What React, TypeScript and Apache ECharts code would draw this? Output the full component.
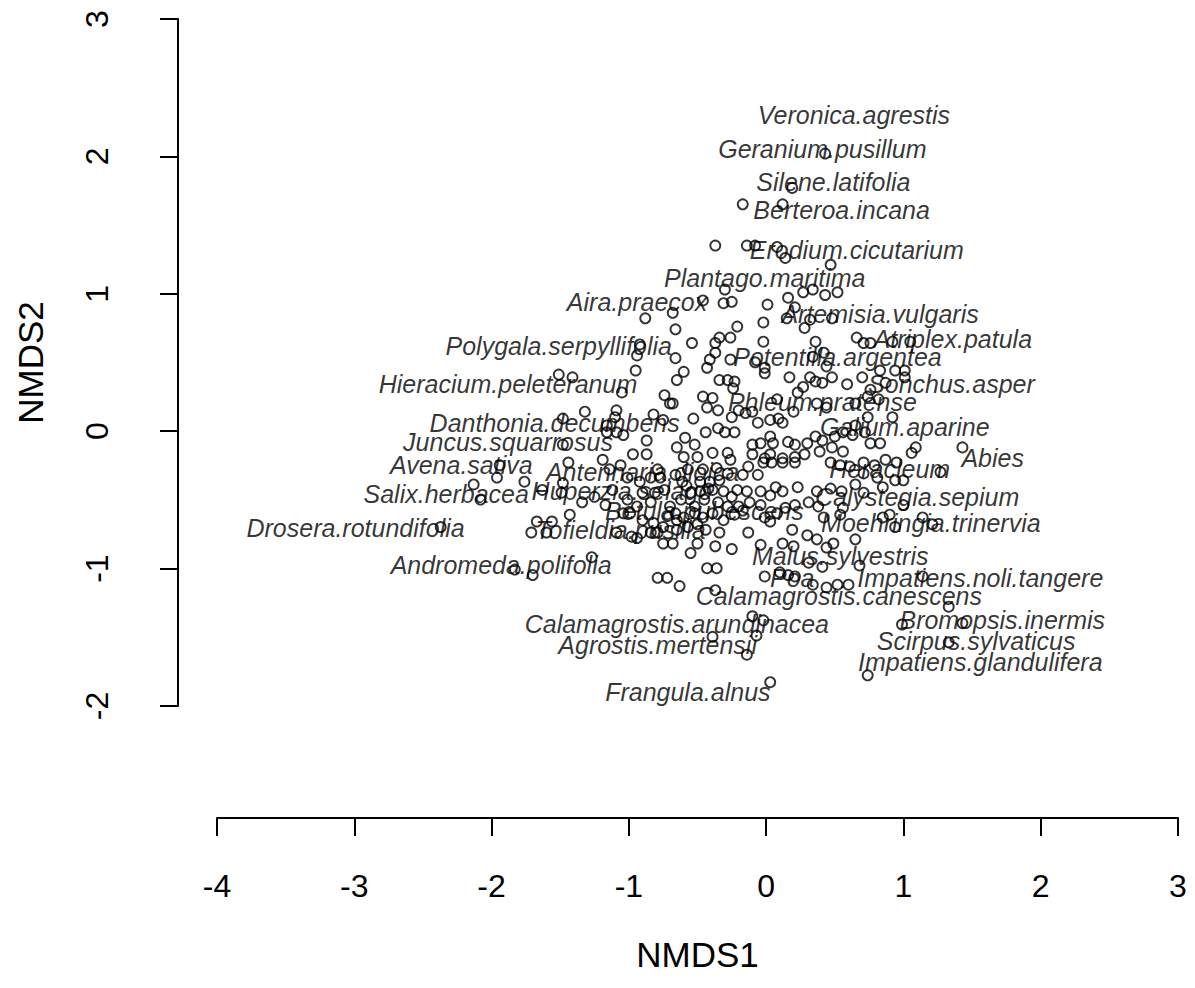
import React, { useEffect, useRef } from "react";
import * as echarts from "echarts";

// Species with text labels (NMDS1, NMDS2 at label centre)
const labelNames: string[] = [
  "Veronica.agrestis", "Geranium.pusillum", "Silene.latifolia", "Berteroa.incana",
  "Erodium.cicutarium", "Plantago.maritima", "Aira.praecox", "Artemisia.vulgaris",
  "Atriplex.patula", "Polygala.serpyllifolia", "Potentilla.argentea", "Hieracium.peleteranum",
  "Sonchus.asper", "Phleum.pratense", "Danthonia.decumbens", "Galium.aparine",
  "Juncus.squarrosus", "Abies", "Avena.sativa", "Antennaria.dioica", "Heracleum",
  "Salix.herbacea", "Huperzia.selago", "Calystegia.sepium", "Betula.pubescens",
  "Drosera.rotundifolia", "Moehringia.trinervia", "Tofieldia.pusilla", "Malus.sylvestris",
  "Andromeda.polifolia", "Impatiens.noli.tangere", "Poa", "Calamagrostis.canescens",
  "Bromopsis.inermis", "Calamagrostis.arundinacea", "Scirpus.sylvaticus",
  "Agrostis.mertensii", "Impatiens.glandulifera", "Frangula.alnus",
];
const labelX: number[] = [
  0.64, 0.41, 0.49, 0.55, 0.66, -0.01, -0.94, 0.83, 1.36, -1.51, 0.52, -1.88,
  1.35, 0.41, -1.54, 1.01, -1.88, 1.65, -2.22, -0.90, 0.90, -2.33, -1.05, 1.10,
  -0.45, -2.99, 1.20, -1.06, 0.54, -1.93, 1.56, 0.19, 0.53, 1.72, -0.65, 1.53,
  -0.79, 1.56, -0.57,
];
const labelY: number[] = [
  2.30, 2.05, 1.81, 1.61, 1.32, 1.11, 0.94, 0.85, 0.67, 0.62, 0.54, 0.34,
  0.34, 0.21, 0.06, 0.03, -0.08, -0.20, -0.25, -0.30, -0.28, -0.46, -0.44, -0.48,
  -0.58, -0.71, -0.67, -0.72, -0.91, -0.98, -1.07, -1.07, -1.20, -1.38, -1.41, -1.53,
  -1.56, -1.68, -1.90,
];

// Unlabelled species points [NMDS1, NMDS2]
const speciesPoints: [number, number][] = [
  [0.43, 2.02], [0.19, 1.77], [-0.17, 1.65], [0.12, 1.65], [-0.37, 1.35], [-0.14, 1.35],
  [-0.08, 1.35], [0.08, 1.34], [0.14, 1.26], [0.47, 1.21], [-0.30, 1.03], [0.27, 1.01],
  [0.34, 1.03], [0.43, 0.99], [0.52, 1.01], [0.16, 0.97], [-0.46, 0.95], [-0.25, 0.94],
  [-0.68, 0.86], [-0.88, 0.82], [0.01, 0.92], [0.32, 0.81], [0.48, 0.82], [0.15, 0.82],
  [0.21, 0.90], [0.28, 0.75], [-0.02, 0.79], [-0.21, 0.76], [-0.66, 0.74], [-0.31, 0.93],
  [-0.54, 0.64], [-0.34, 0.68], [-0.37, 0.64], [-0.26, 0.68], [-0.02, 0.65], [0.36, 0.65],
  [0.42, 0.57], [0.34, 0.54], [0.66, 0.68], [0.71, 0.64], [0.76, 0.64], [0.92, 0.65],
  [1.05, 0.65], [0.44, 0.47], [-0.92, 0.63], [-0.94, 0.55], [-0.95, 0.44], [-0.66, 0.53],
  [-0.37, 0.57], [-0.41, 0.52], [-0.26, 0.52], [-0.43, 0.46], [-0.60, 0.43], [-0.65, 0.37],
  [-0.01, 0.46], [-0.01, 0.42], [-0.08, 0.50], [0.17, 0.39], [0.32, 0.39], [0.36, 0.36],
  [0.41, 0.35], [0.48, 0.39], [0.59, 0.34], [0.70, 0.39], [0.83, 0.44], [0.76, 0.30],
  [0.87, 0.35], [0.94, 0.44], [1.01, 0.44], [1.01, 0.39], [-0.34, 0.37], [-0.28, 0.37],
  [-0.23, 0.36], [-0.24, 0.31], [0.27, 0.32], [0.23, 0.28], [0.08, 0.23], [0.37, 0.20],
  [0.44, 0.17], [0.65, 0.20], [0.74, 0.25], [0.74, 0.10], [0.82, 0.23], [0.92, 0.10],
  [-0.46, 0.25], [-0.39, 0.24], [-0.43, 0.17], [-0.35, 0.15], [-0.20, 0.15], [-0.15, 0.13],
  [-0.25, 0.10], [-0.10, 0.14], [-0.06, 0.06], [0.03, 0.08], [0.09, 0.09], [0.20, 0.14],
  [0.12, 0.06], [-0.68, 0.20], [-0.53, 0.09], [-0.44, -0.01], [-0.35, 0.02], [-0.30, -0.01],
  [-0.23, -0.01], [-0.59, -0.05], [-0.52, -0.10], [-0.65, -0.12], [-0.10, -0.10], [-0.04, -0.09],
  [0.03, -0.04], [0.05, -0.09], [0.16, -0.08], [0.21, -0.10], [0.30, -0.09], [0.41, -0.07],
  [0.36, -0.04], [0.50, -0.04], [0.56, -0.01], [0.63, -0.03], [0.65, 0.04], [0.72, -0.01],
  [0.76, -0.09], [0.83, -0.09], [0.48, -0.12], [0.56, -0.15], [0.39, -0.15], [0.28, -0.17],
  [0.21, -0.19], [0.12, -0.20], [0.03, -0.17], [-0.01, -0.20], [-0.10, -0.17], [-0.13, -0.26],
  [-0.02, -0.23], [0.04, -0.23], [0.12, -0.23], [0.21, -0.23], [0.47, -0.23], [0.54, -0.25],
  [0.61, -0.26], [0.71, -0.23], [0.79, -0.25], [0.87, -0.21], [1.09, -0.12], [1.06, -0.16],
  [1.43, -0.12], [0.95, -0.23], [1.27, -0.30], [0.94, -0.36], [1.00, -0.36], [-0.60, -0.19],
  [-0.50, -0.19], [-0.39, -0.16], [-0.28, -0.16], [-0.26, -0.21], [-0.57, -0.28], [-0.46, -0.28],
  [-0.36, -0.27], [-0.28, -0.31], [-0.17, -0.32], [-0.06, -0.32], [-0.66, -0.32], [-0.61, -0.37],
  [-0.48, -0.37], [-0.41, -0.37], [-0.34, -0.36], [-0.48, -0.44], [-0.39, -0.43], [-0.31, -0.44],
  [-0.21, -0.43], [-0.14, -0.44], [0.07, -0.41], [0.12, -0.44], [0.23, -0.41], [0.37, -0.44],
  [0.47, -0.42], [0.55, -0.44], [0.65, -0.39], [0.71, -0.31], [0.81, -0.34], [0.85, -0.41],
  [0.71, -0.45], [-0.04, -0.44], [0.03, -0.47],
  [-1.41, 0.39], [-1.51, 0.41], [-1.05, 0.28], [-0.74, 0.26], [-0.70, 0.20], [-1.32, 0.14],
  [-1.09, 0.15], [-1.10, 0.10], [-1.48, 0.09], [-1.16, 0.04], [-1.09, -0.01], [-1.16, -0.01],
  [-1.04, -0.03], [-0.82, 0.12], [-0.75, 0.08], [-0.87, -0.07], [-1.48, -0.10], [-0.97, -0.17],
  [-0.87, -0.17], [-1.19, -0.21], [-1.06, -0.25], [-1.44, -0.23], [-1.94, -0.25], [-1.96, -0.34],
  [-1.76, -0.37], [-2.13, -0.39], [-1.63, -0.43], [-1.48, -0.38], [-1.49, -0.45], [-0.92, -0.37],
  [-0.84, -0.34], [-0.77, -0.34], [-0.90, -0.45], [-0.81, -0.45], [-0.74, -0.43], [-0.79, -0.28],
  [-2.08, -0.50], [-2.37, -0.70], [-1.67, -0.66], [-1.56, -0.66], [-1.43, -0.61], [-1.71, -0.74],
  [-1.60, -0.74], [-1.83, -1.01], [-1.70, -1.05], [-1.27, -0.92], [-0.99, -0.60], [-1.09, -0.74],
  [-0.94, -0.78], [-0.75, -0.82], [-0.79, -1.07], [-0.72, -1.07], [-0.63, -1.13],
  [-1.14, -0.28], [-1.01, -0.34], [-1.12, -0.43], [-1.01, -0.50], [-1.17, -0.54], [-1.25, -0.48],
  [-1.34, -0.52], [-1.04, -0.60], [-0.94, -0.55], [-0.84, -0.52], [-0.90, -0.65], [-0.82, -0.67],
  [-0.75, -0.70], [-0.79, -0.74], [-0.84, -0.74], [-0.98, -0.77],
  [-0.55, -0.89], [-0.43, -1.00], [-0.36, -1.00], [-0.37, -1.16], [-0.25, -0.86], [-0.37, -0.84],
  [-0.50, -0.82], [-0.01, -1.06], [0.16, -1.05], [0.21, -1.06], [0.10, -1.03], [0.34, -1.12],
  [0.44, -1.14], [0.52, -1.12], [0.60, -1.12], [0.41, -0.99], [0.31, -0.96], [0.68, -0.98],
  [0.65, -0.79], [0.49, -0.82], [0.44, -0.85], [0.37, -0.79], [0.30, -0.76], [0.12, -0.82],
  [0.20, -0.84], [0.19, -0.72], [-0.04, -0.83], [-0.10, -1.35], [-0.02, -1.38], [-0.07, -1.49],
  [-0.39, -1.50], [-0.14, -1.63], [0.03, -1.83], [0.74, -1.78], [1.14, -1.06], [1.33, -1.28],
  [1.43, -1.40], [0.99, -1.41], [1.33, -1.54], [0.90, -0.61], [1.14, -0.63], [1.21, -0.68],
  [0.94, -0.70], [1.00, -0.54],
  [-0.66, -0.60], [-0.60, -0.63], [-0.52, -0.60], [-0.46, -0.63], [-0.39, -0.60], [-0.31, -0.65],
  [-0.23, -0.61], [-0.17, -0.58], [-0.12, -0.52], [-0.04, -0.54], [-0.01, -0.63], [0.03, -0.66],
  [0.08, -0.60], [0.14, -0.56], [0.21, -0.54], [0.31, -0.52], [0.38, -0.55], [0.42, -0.63],
  [0.54, -0.61], [0.56, -0.56], [0.85, -0.63], [-0.34, -0.74], [-0.44, -0.72], [-0.57, -0.70],
  [-0.65, -0.72], [-0.68, -0.82], [-0.13, -0.74],
  [-0.55, -0.45], [-0.45, -0.50], [-0.35, -0.52], [-0.28, -0.55], [-0.52, -0.55], [-0.62, -0.50],
  [-0.70, -0.55], [-0.58, -0.40], [-0.42, -0.42], [-0.25, -0.48], [-0.20, -0.55], [-0.65, -0.65],
  [-0.50, -0.68], [-0.72, -0.62],
];

const xTicks = { min: -4, max: 3, interval: 1 };
const yTicks = { min: -2, max: 3, interval: 1 };
const xTitle = "NMDS1";
const yTitle = "NMDS2";

const FONT = "'Liberation Sans', Arial, Helvetica, sans-serif";

export default function App() {
  const ref = useRef<HTMLDivElement>(null);
  useEffect(() => {
    document.body.style.margin = "0";
    if (!ref.current) return;
    const chart = echarts.init(ref.current, undefined, { renderer: "svg" });
    const pxPerUnit = 137.3;
    const plotLeft = 178, plotTop = 19, plotW = 1000, plotH = 799;
    const xMax = 3.0, yMax = 3.0;
    const xMin = xMax - plotW / pxPerUnit;
    const yMin = yMax - plotH / pxPerUnit;
    const labelData = labelNames.map((n, i) => ({ name: n, value: [labelX[i], labelY[i]] }));

    chart.setOption({
      animation: false,
      backgroundColor: "#ffffff",
      textStyle: { fontFamily: FONT },
      grid: [
        { left: plotLeft, top: plotTop, width: plotW, height: plotH },
        { left: 217, top: 817, width: 961, height: 1 },
        { left: plotLeft, top: 19, width: 1, height: 687 },
      ],
      xAxis: [
        { gridIndex: 0, type: "value", min: xMin, max: xMax, show: false },
        {
          gridIndex: 1, type: "value", position: "bottom",
          min: xTicks.min, max: xTicks.max, interval: xTicks.interval,
          axisLine: { show: true, lineStyle: { color: "#000", width: 2 } },
          axisTick: { show: true, length: 18, inside: false, lineStyle: { color: "#000", width: 2 } },
          axisLabel: { color: "#000", fontSize: 32, margin: 52, fontFamily: FONT },
          splitLine: { show: false },
          name: xTitle, nameLocation: "middle", nameGap: 119,
          nameTextStyle: { color: "#000", fontSize: 35, fontFamily: FONT },
        },
        { gridIndex: 2, type: "value", show: false, min: 0, max: 1 },
      ],
      yAxis: [
        { gridIndex: 0, type: "value", min: yMin, max: yMax, show: false },
        { gridIndex: 1, type: "value", show: false, min: 0, max: 1 },
        {
          gridIndex: 2, type: "value", position: "left",
          min: yTicks.min, max: yTicks.max, interval: yTicks.interval,
          axisLine: { show: true, lineStyle: { color: "#000", width: 2 } },
          axisTick: { show: true, length: 18, inside: false, lineStyle: { color: "#000", width: 2 } },
          axisLabel: { color: "#000", fontSize: 32, margin: 65, rotate: 90, fontFamily: FONT },
          splitLine: { show: false },
          name: yTitle, nameLocation: "middle", nameGap: 130,
          nameTextStyle: { color: "#000", fontSize: 35, fontFamily: FONT },
        },
      ],
      series: [
        {
          type: "scatter", xAxisIndex: 0, yAxisIndex: 0,
          data: speciesPoints,
          symbol: "circle", symbolSize: 10,
          itemStyle: { color: "rgba(0,0,0,0)", borderColor: "#000", borderWidth: 1.9 },
          z: 2, silent: true,
        },
        {
          type: "scatter", xAxisIndex: 0, yAxisIndex: 0,
          data: labelData,
          symbolSize: 1,
          itemStyle: { color: "rgba(0,0,0,0)" },
          label: {
            show: true, position: "inside", formatter: "{b}",
            color: "#000", fontSize: 25, fontStyle: "italic", fontFamily: FONT,
          },
          z: 3, silent: true,
        },
      ],
    });
    return () => chart.dispose();
  }, []);
  return <div ref={ref} style={{ width: 1195, height: 988 }} />;
}
